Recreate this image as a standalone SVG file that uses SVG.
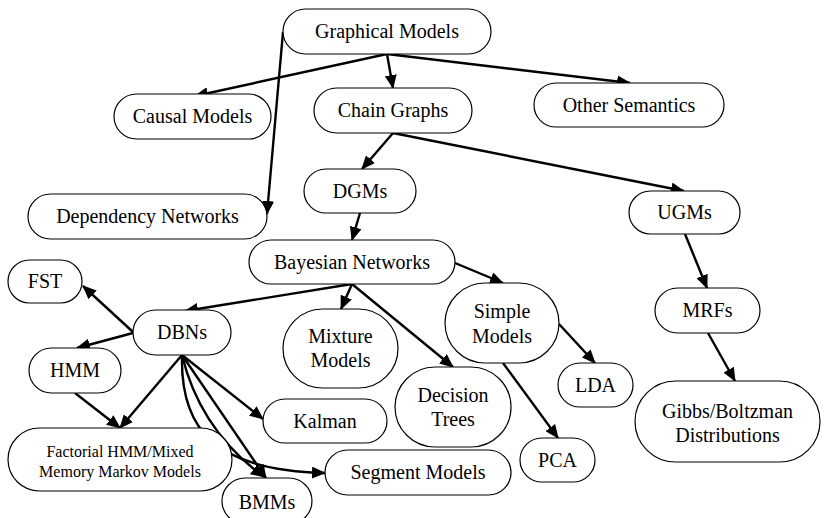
<svg xmlns="http://www.w3.org/2000/svg" width="824" height="518" viewBox="0 0 824 518">
<defs>
<marker id="ah" markerUnits="userSpaceOnUse" markerWidth="14" markerHeight="12" refX="13" refY="6" orient="auto">
<path d="M0,0 L14,6 L0,12 z" fill="#000"/>
</marker>
<style>
.n{fill:#fff;stroke:#000;stroke-width:1.2}
.t{font-size:20px;fill:#000;text-anchor:middle}
.s{font-size:16px}
.e{fill:none;stroke:#000;stroke-width:2.4;marker-end:url(#ah)}
</style>
</defs>
<rect width="824" height="518" fill="#fff"/>
<g id="connectors">
<path class="e" d="M387,54 L195,96"/>
<path class="e" d="M387,54 L393,88"/>
<path class="e" d="M387,54 L630,83"/>
<path class="e" d="M283,32 L267,214"/>
<path class="e" d="M393,133 L362,169"/>
<path class="e" d="M393,133 L684,191"/>
<path class="e" d="M360,213 L352,240"/>
<path class="e" d="M685,234 L707,288"/>
<path class="e" d="M708,333 L735,381"/>
<path class="e" d="M455,263 L503,283"/>
<path class="e" d="M559,324 L595,363"/>
<path class="e" d="M503,363 L558,438"/>
<path class="e" d="M352,284 L185,311"/>
<path class="e" d="M352,284 L341,309"/>
<path class="e" d="M352,284 L453,367"/>
<path class="e" d="M133,332 L83,286"/>
<path class="e" d="M133,333 L77,348"/>
<path class="e" d="M182,355 L120,428"/>
<path class="e" d="M75,393 L120,428"/>
<path class="e" d="M182,355 L263,419"/>
<path class="e" d="M182,355 L266,478"/>
<path class="e" d="M182,355 Q200,430 264,477"/>
<path class="e" d="M182,355 C180,430 215,470 325,473"/>
</g>
<g font-family="Liberation Serif, Times New Roman, DejaVu Serif, serif">
<g id="graphical-models"><rect class="n" x="283" y="9" width="208" height="45" rx="22.5"/><text class="t" x="387" y="38">Graphical Models</text></g>
<g id="causal-models"><rect class="n" x="114" y="94" width="157" height="45" rx="22.5"/><text class="t" x="192.5" y="123">Causal Models</text></g>
<g id="chain-graphs"><rect class="n" x="314" y="88" width="158" height="45" rx="22.5"/><text class="t" x="393" y="117">Chain Graphs</text></g>
<g id="other-semantics"><rect class="n" x="534" y="83" width="190" height="44" rx="22"/><text class="t" x="629" y="112">Other Semantics</text></g>
<g id="dgms"><rect class="n" x="304" y="169" width="112" height="44" rx="22"/><text class="t" x="360" y="198">DGMs</text></g>
<g id="dependency-networks"><rect class="n" x="28" y="194" width="239" height="45" rx="22.5"/><text class="t" x="147.5" y="223">Dependency Networks</text></g>
<g id="ugms"><rect class="n" x="629" y="191" width="111" height="43" rx="21.5"/><text class="t" x="684.5" y="219">UGMs</text></g>
<g id="bayesian-networks"><rect class="n" x="249" y="240" width="206" height="44" rx="22"/><text class="t" x="352" y="269">Bayesian Networks</text></g>
<g id="fst"><rect class="n" x="8" y="260" width="74" height="43" rx="21.5"/><text class="t" x="45" y="288">FST</text></g>
<g id="dbns"><rect class="n" x="133" y="310" width="98" height="45" rx="22.5"/><text class="t" x="182" y="339">DBNs</text></g>
<g id="hmm"><rect class="n" x="29" y="348" width="92" height="45" rx="22.5"/><text class="t" x="75" y="377">HMM</text></g>
<g id="mixture-models"><rect class="n" x="283" y="309" width="115" height="79" rx="39.5"/><text class="t" x="340.5" y="343">Mixture</text><text class="t" x="340.5" y="367">Models</text></g>
<g id="decision-trees"><rect class="n" x="395" y="367" width="116" height="80" rx="40"/><text class="t" x="453" y="402">Decision</text><text class="t" x="453" y="426">Trees</text></g>
<g id="simple-models"><rect class="n" x="445" y="283" width="114" height="80" rx="40"/><text class="t" x="502" y="318">Simple</text><text class="t" x="502" y="343">Models</text></g>
<g id="mrfs"><rect class="n" x="655" y="288" width="105" height="45" rx="22.5"/><text class="t" x="707.5" y="317">MRFs</text></g>
<g id="lda"><rect class="n" x="558" y="363" width="75" height="44" rx="22"/><text class="t" x="595.5" y="392">LDA</text></g>
<g id="gibbs-boltzman"><rect class="n" x="635" y="381" width="185" height="81" rx="40.5"/><text class="t" x="727.5" y="418">Gibbs/Boltzman</text><text class="t" x="727.5" y="442">Distributions</text></g>
<g id="pca"><rect class="n" x="520" y="438" width="75" height="44" rx="22"/><text class="t" x="557.5" y="467">PCA</text></g>
<g id="segment-models"><rect class="n" x="325" y="450" width="186" height="45" rx="22.5"/><text class="t" x="418" y="479">Segment Models</text></g>
<g id="kalman"><rect class="n" x="263" y="399" width="124" height="44" rx="22"/><text class="t" x="325" y="428">Kalman</text></g>
<g id="factorial-hmm"><rect class="n" x="8" y="428" width="224" height="63" rx="31.5"/><text class="t s" x="120" y="457">Factorial HMM/Mixed</text><text class="t s" x="120" y="477">Memory Markov Models</text></g>
<g id="bmms"><rect class="n" x="222" y="478" width="90" height="46" rx="23"/><text class="t" x="267" y="509">BMMs</text></g>
</g>
</svg>
